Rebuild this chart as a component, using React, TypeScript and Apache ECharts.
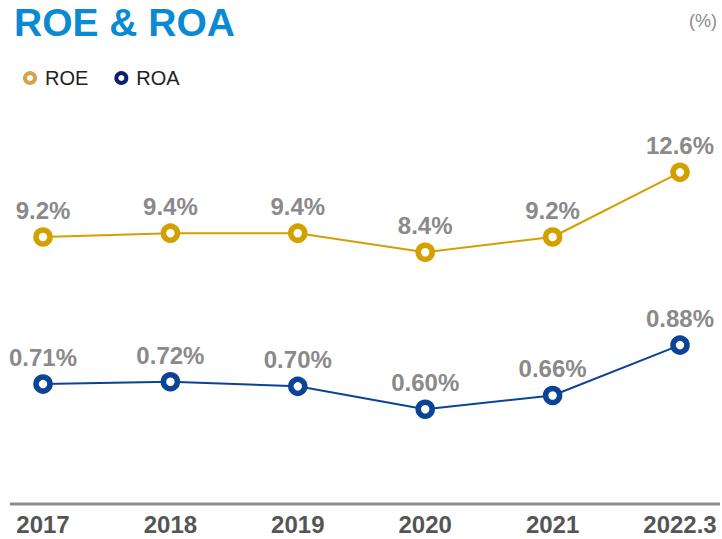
import React, { useEffect, useRef } from "react";
import * as echarts from "echarts";

const categories = ["2017", "2018", "2019", "2020", "2021", "2022.3"];
const roeValues = [9.2, 9.4, 9.4, 8.4, 9.2, 12.6];
const roaValues = [0.71, 0.72, 0.7, 0.6, 0.66, 0.88];
const roeLabels = ["9.2%", "9.4%", "9.4%", "8.4%", "9.2%", "12.6%"];
const roaLabels = ["0.71%", "0.72%", "0.70%", "0.60%", "0.66%", "0.88%"];

const FONT = "'Liberation Sans', Arial, Helvetica, sans-serif";
const ROE_COLOR = "#D3A000";
const ROA_COLOR = "#0B4496";

export default function App() {
  const ref = useRef<HTMLDivElement>(null);
  useEffect(() => {
    if (!ref.current) return;
    const chart = echarts.init(ref.current, null, { renderer: "svg" });
    const labelStyle = (labels: string[]) => ({
      show: true,
      position: "top" as const,
      distance: 5,
      color: "#8a8a8a",
      fontFamily: FONT,
      fontWeight: "bold" as const,
      fontSize: 24,
      formatter: (p: any) => labels[p.dataIndex],
    });
    chart.setOption({
      animation: false,
      textStyle: { fontFamily: FONT },
      grid: { left: 43, right: 42, top: 100, bottom: 35, containLabel: false },
      legend: {
        left: 18,
        top: 63,
        itemWidth: 20,
        itemHeight: 10,
        itemGap: 26,
        icon: "circle",
        textStyle: { fontFamily: FONT, fontSize: 20, color: "#222" },
        data: [
          { name: "ROE", itemStyle: { color: "#fff", borderColor: "#D6A448", borderWidth: 4 } },
          { name: "ROA", itemStyle: { color: "#fff", borderColor: "#0C1F6E", borderWidth: 4 } },
        ],
      },
      xAxis: {
        type: "category",
        data: categories,
        boundaryGap: false,
        axisLine: { show: false },
        axisTick: { show: false },
        axisLabel: {
          color: "#555",
          fontFamily: FONT,
          fontWeight: "bold",
          fontSize: 24,
          margin: 8,
        },
      },
      yAxis: [
        { type: "value", min: -4.83, max: 16.4, show: false },
        { type: "value", min: 0.186, max: 1.951, show: false },
      ],
      graphic: [
        {
          type: "text",
          x: 14,
          y: 22,
          style: {
            text: "ROE & ROA",
            fill: "#0A8AD2",
            font: `bold 39px ${FONT}`,
            textVerticalAlign: "middle",
          },
        },
        {
          type: "text",
          x: 717,
          y: 21,
          style: {
            text: "(%)",
            fill: "#8a8a8a",
            font: `18px ${FONT}`,
            textAlign: "right",
            textVerticalAlign: "middle",
          },
        },
        {
          type: "line",
          shape: { x1: 10, y1: 504, x2: 720, y2: 504 },
          style: { stroke: "#8c8c8c", lineWidth: 3 },
        },
      ],
      series: [
        {
          name: "ROE",
          type: "line",
          yAxisIndex: 0,
          data: roeValues,
          symbol: "circle",
          symbolSize: 14,
          lineStyle: { color: ROE_COLOR, width: 2 },
          itemStyle: { color: "#fff", borderColor: ROE_COLOR, borderWidth: 5.5 },
          label: labelStyle(roeLabels),
          z: 3,
        },
        {
          name: "ROA",
          type: "line",
          yAxisIndex: 1,
          data: roaValues,
          symbol: "circle",
          symbolSize: 14,
          lineStyle: { color: ROA_COLOR, width: 2 },
          itemStyle: { color: "#fff", borderColor: ROA_COLOR, borderWidth: 5.5 },
          label: labelStyle(roaLabels),
          z: 3,
        },
      ],
    });
    return () => chart.dispose();
  }, []);
  return <div ref={ref} style={{ width: 722, height: 539, position: "absolute", left: 0, top: 0 }} />;
}
